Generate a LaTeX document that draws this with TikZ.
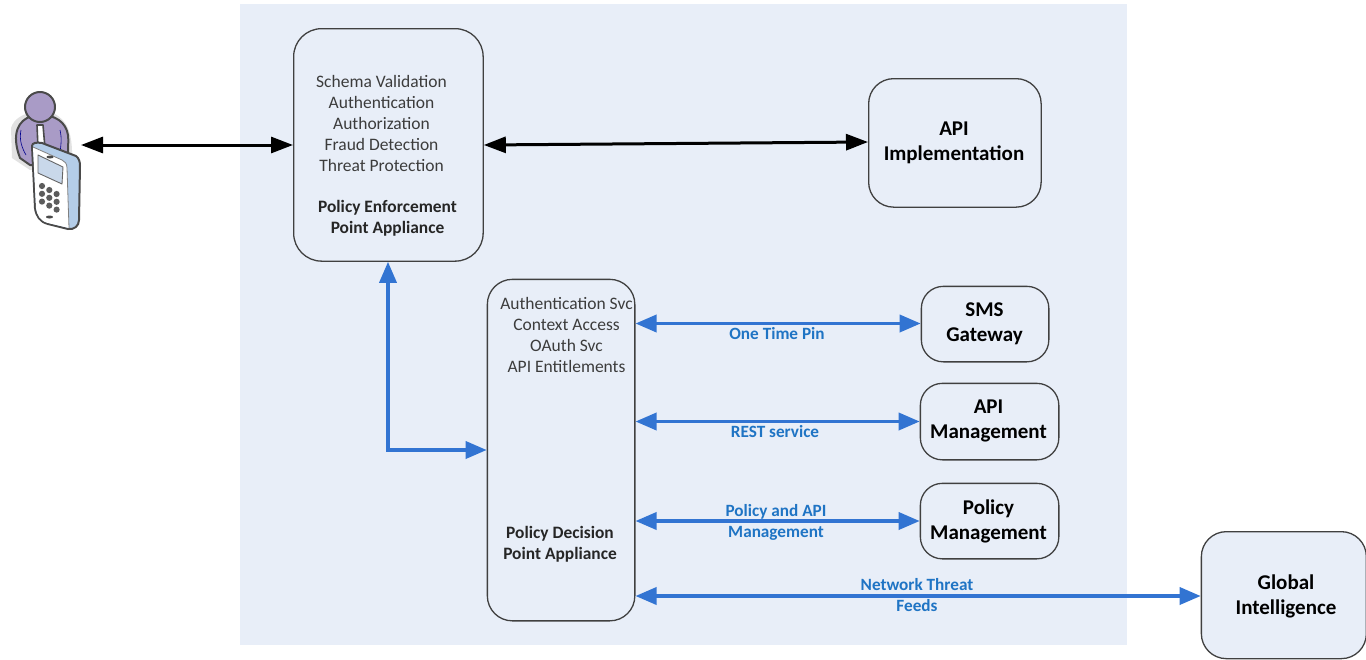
\documentclass[tikz,border=0pt]{standalone}
\usepackage{fontspec}
\setmainfont{Carlito}
\usetikzlibrary{arrows.meta}
\definecolor{panelbg}{HTML}{E8EEF8}
\definecolor{linkblue}{HTML}{3274D2}
\definecolor{labelblue}{HTML}{1F74C4}
\definecolor{boxline}{HTML}{404040}
\definecolor{txtgrey}{HTML}{3C3C3C}
\definecolor{person}{HTML}{A99BC6}
\definecolor{persondark}{HTML}{4A4A4A}
\definecolor{phoneblue}{HTML}{B4CDE8}
\definecolor{screenblue}{HTML}{C9D8EA}
\tikzset{
  box/.style={draw=boxline,line width=1.3pt,rounded corners=#1,inner sep=0pt,anchor=north west},
  box/.default=25pt,
  svc/.style={font=\fontsize{21}{25}\selectfont\bfseries,align=center,text=black,inner sep=0pt},
  txt/.style={font=\fontsize{17.5}{21}\selectfont,align=center,text=txtgrey,inner sep=0pt},
  txtb/.style={font=\fontsize{17.4}{21}\selectfont\bfseries,align=center,text=black!85,inner sep=0pt},
  lbl/.style={font=\fontsize{17.2}{21}\selectfont\bfseries,align=center,text=labelblue,inner sep=0pt},
  blk/.style={line width=3pt,black,{Triangle[length=22pt,width=16pt]}-{Triangle[length=22pt,width=16pt]}},
  blu/.style={line width=3.5pt,linkblue,{Triangle[length=21pt,width=17pt]}-{Triangle[length=21pt,width=17pt]}},
}
\begin{document}
\begin{tikzpicture}[x=1pt,y=-1pt]
\useasboundingbox (0,0) rectangle (1366,659);
\fill[panelbg] (240,4) rectangle (1127,645);
% boxes
\node[box=28pt,minimum width=189.5pt,minimum height=232.5pt] (pep) at (293,28) {};
\node[box,minimum width=172.5pt,minimum height=128.5pt] (impl) at (868,78) {};
\node[box,minimum width=147.5pt,minimum height=341.5pt] (pdp) at (486.7,278.7) {};
\node[box=22pt,minimum width=127.5pt,minimum height=75.5pt] (sms) at (920.7,285.7) {};
\node[box=22pt,minimum width=138.5pt,minimum height=76.5pt] (mgmt) at (919.7,382.7) {};
\node[box=22pt,minimum width=138.5pt,minimum height=75.5pt] (pol) at (919.7,482.7) {};
\node[box,fill=panelbg,minimum width=165pt,minimum height=127pt] (glob) at (1200.7,531) {};
% box texts
\node[txt] (peptxt) at (381.5,123) {Schema Validation\\Authentication\\Authorization\\Fraud Detection\\Threat Protection};
\node[txtb] (peplbl) at (387.5,218) {Policy Enforcement\\Point Appliance};
\node[txt] (pdptxt) at (566.5,335) {Authentication Svc\\Context Access\\OAuth Svc\\API Entitlements};
\node[txtb] (pdplbl) at (560,544) {Policy Decision\\Point Appliance};
\node[svc] (impltxt) at (954,142.5) {API\\Implementation};
\node[svc] (smstxt) at (984.5,323.5) {SMS\\Gateway};
\node[svc] (mgmttxt) at (988.5,421) {API\\Management};
\node[svc] (poltxt) at (988.5,521) {Policy\\Management};
\node[svc] (globtxt) at (1286,596) {Global\\Intelligence};
% phone user icon
\begin{scope}[line join=round]
  \fill[gray!45,opacity=.5] (12,158) -- (11,128) .. controls (14,118) and (24,114) .. (32,112) -- (52,112) .. controls (62,118) and (71,124) .. (72,150) -- (72,165) -- (30,170) -- cycle;
  \draw[persondark,line width=2pt,fill=person] (20,158) .. controls (11,134) and (18,120) .. (32,116) -- (50,116) .. controls (64,120) and (70,130) .. (68,146) -- (68,165) -- (30,165) -- cycle;
  \draw[persondark,line width=2pt,fill=person] (40,107) ellipse (15pt and 15pt);
  \draw[blue!55!black,line width=.6pt] (21,130) .. controls (19,140) and (22,148) .. (26,155);
  \draw[blue!55!black,line width=.6pt] (60,130) .. controls (62,138) and (61,146) .. (60,152);
  \draw[persondark,line width=1.6pt,fill=white] (37,125) -- (43,125) -- (45,148) -- (38,148) -- cycle;
  \draw[persondark,line width=2pt,fill=phoneblue] (32,146) .. controls (32,143) and (36,142) .. (42,143) -- (76,156) .. controls (79,158) and (80,162) .. (80,166) -- (79,220) .. controls (79,226) and (74,230) .. (68,229) -- (48,224) .. controls (40,222) and (36,216) .. (35,208) -- cycle;
  \fill[white] (33,147) -- (62,160) .. controls (65,161) and (67,164) .. (67,168) -- (69,228) -- (48,223) .. controls (40,221) and (37,215) .. (36,208) -- cycle;
  \draw[persondark!70,line width=.8pt] (33,147) -- (62,160) .. controls (65,161) and (67,164) .. (67,168) -- (69,228);
  \draw[gray!80!black,line width=.9pt,fill=screenblue] (38,155) -- (63,167) -- (62,184) -- (38,173) -- cycle;
  \fill[persondark] (50,157) ellipse (3.5pt and 1.5pt);
  \fill[persondark] (49.5,217) ellipse (3.5pt and 1.5pt);
  \foreach \r in {0,1,2}{
    \foreach \c in {0,1,2}{
      \fill[persondark!90] ({42+\c*7.3},{186+\r*7.8+\c*4}) circle (3.1pt);
    }
  }
\end{scope}
\coordinate (phoneedge) at (81,145);
% connectors
\draw[blk] (phoneedge) -- (pep.west |- phoneedge);
\draw[blk] (pep.east |- 0,145) -- (impl.west |- 0,142);
\coordinate (bend) at (388,450);
\draw[line width=3.5pt,linkblue,{Triangle[length=21pt,width=17pt]}-{Triangle[length=21pt,width=17pt]},line join=miter] (pep.south -| bend) -- (bend) -- (pdp.west |- bend);
\draw[blu] (pdp.east |- 0,323.5) -- (sms.west |- 0,323.5);
\draw[blu] (pdp.east |- 0,421.5) -- (mgmt.west |- 0,421.5);
\draw[blu] (pdp.east |- 0,521) -- (pol.west |- 0,521);
\draw[blu] (pdp.east |- 0,596) -- (glob.west |- 0,596);
% labels
\node[lbl] (l1) at (777,333.5) {One Time Pin};
\node[lbl] (l2) at (775,431.5) {REST service};
\node[lbl] (l3) at (776,522) {Policy and API\\Management};
\node[lbl] (l4) at (917,595) {Network Threat\\Feeds};
\end{tikzpicture}
\end{document}
